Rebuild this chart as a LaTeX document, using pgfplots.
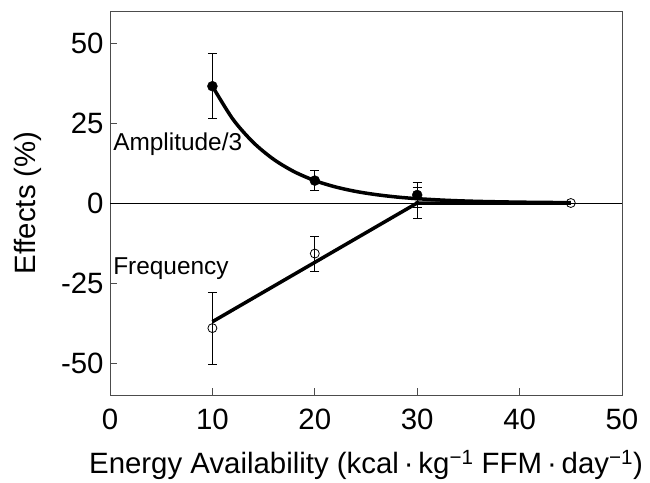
\documentclass[border=0pt]{standalone}
\usepackage{fontspec}
\setmainfont{Liberation Sans}
\usepackage{pgfplots}
\pgfplotsset{compat=1.18}
\begin{document}
\begin{tikzpicture}[x=1bp,y=1bp]
\begin{axis}[
  at={(110bp,83bp)}, anchor=south west,
  scale only axis, width=512bp, height=384bp,
  xmin=0, xmax=50, ymin=-60, ymax=60,
  xtick={0,10,20,30,40,50}, ytick={-50,-25,0,25,50},
  tick align=inside, tick pos=left,
  major tick length=7bp,
  axis line style={line width=0.8bp, draw=black!70},
  tick style={line width=0.8bp, black!70},
  /pgf/number format/assume math mode=true,
  tick label style={font=\fontsize{29.5}{31}\selectfont},
  xticklabel style={yshift=-10bp},
  yticklabel style={xshift=-3bp},
  label style={font=\fontsize{29.5}{31}\selectfont},
  xlabel style={yshift=-14bp},
  ylabel style={yshift=13bp},
  xlabel={Energy Availability (kcal\,·\,kg\textsuperscript{−1} FFM\,·\,day\textsuperscript{−1})},
  ylabel={Effects (\%)},
  clip=false,
]
% zero line
\addplot[black, line width=0.8bp] coordinates {(0,0) (50,0)};
% amplitude fitted curve
\addplot[black, line width=3.5bp, smooth] coordinates {
(10,36.5) (12,26.2) (14,18.9) (16,13.6) (18,9.76) (20,7.0) (22,5.04) (24,3.62)
(26,2.61) (28,1.87) (30,1.35) (33,0.82) (36,0.50) (40,0.26) (45,0.11)};
% frequency fitted line
\addplot[black, line width=3.5bp] coordinates {(10,-37.1) (30,0) (45,0)};
% amplitude data
\addplot[black, only marks, mark=*, mark size=5bp, mark options={fill=black},
  error bars/.cd, y dir=both, y explicit,
  error bar style={line width=0.8bp}, error mark options={rotate=90, mark size=4.5bp, line width=0.8bp}]
  coordinates {(10,36.5) +- (0,10.2) (20,7.0) +- (0,3.2) (30,2.5) +- (0,3.9)};
% frequency data
\addplot[black, only marks, mark=o, mark size=4.5bp, mark options={fill=white, line width=0.8bp},
  error bars/.cd, y dir=both, y explicit,
  error bar style={line width=0.8bp}, error mark options={rotate=90, mark size=4.5bp, line width=0.8bp}]
  coordinates {(10,-39.1) +- (0,11.2) (20,-15.8) +- (0,5.5)};
\addplot[black, only marks, mark=none,
  error bars/.cd, y dir=both, y explicit,
  error bar style={line width=0.8bp}, error mark options={rotate=90, mark size=4.5bp, line width=0.8bp}]
  coordinates {(30,0) +- (0,4.8)};
\addplot[black, only marks, mark=o, mark size=4.5bp, mark options={fill=white, line width=0.8bp}]
  coordinates {(45,0)};
\node[anchor=west, font=\fontsize{24.5}{26}\selectfont, inner sep=0pt] at (axis cs:0.3,18.4) {Amplitude/3};
\node[anchor=west, font=\fontsize{24.5}{26}\selectfont, inner sep=0pt] at (axis cs:0.3,-20.6) {Frequency};
\end{axis}
\useasboundingbox (0,0) rectangle (650bp,478bp);
\end{tikzpicture}
\end{document}
